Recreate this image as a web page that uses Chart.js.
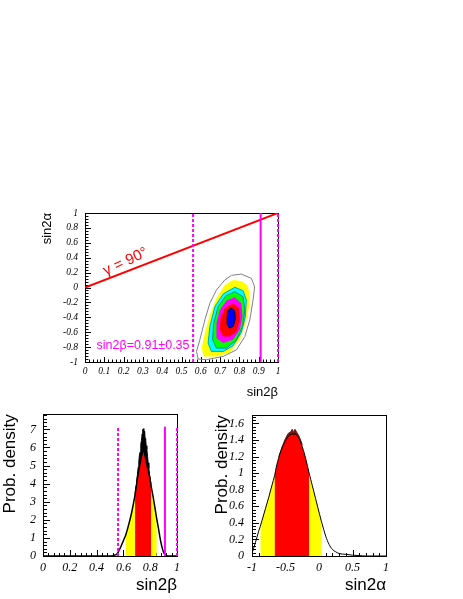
<!DOCTYPE html>
<html>
<head>
<meta charset="utf-8">
<script src="https://cdn.jsdelivr.net/npm/chart.js@4.4.1/dist/chart.umd.min.js"></script>
<style>
  body { margin: 0; background: #fff; }
  #page { position: relative; width: 463px; height: 599px; overflow: hidden; }
  canvas { position: absolute; }
</style>
</head>
<body>
<div id="page">
  <canvas id="topChart" width="300" height="400" style="left:0;top:0"></canvas>
  <canvas id="betaChart" width="205" height="199" style="left:0;top:400px"></canvas>
  <canvas id="alphaChart" width="258" height="199" style="left:205px;top:400px"></canvas>
</div>
<script>
// ---- top panel: sin2beta vs sin2alpha probability regions (outer -> inner)
var grayX = [0.810, 0.862, 0.879, 0.871, 0.854, 0.828, 0.785, 0.716, 0.629, 0.586, 0.578, 0.595, 0.621, 0.647, 0.681, 0.724, 0.759];
var grayY = [0.180, 0.123, 0.011, -0.167, -0.435, -0.658, -0.836, -0.925, -0.969, -0.960, -0.858, -0.702, -0.435, -0.211, -0.033, 0.100, 0.163];
var yellowX = [0.767, 0.810, 0.840, 0.854, 0.850, 0.833, 0.802, 0.750, 0.681, 0.616, 0.604, 0.621, 0.647, 0.681, 0.724];
var yellowY = [0.100, 0.087, 0.033, -0.077, -0.256, -0.479, -0.702, -0.872, -0.925, -0.925, -0.813, -0.612, -0.368, -0.144, 0.033];
var cyanX = [0.776, 0.819, 0.836, 0.831, 0.810, 0.767, 0.716, 0.655, 0.638, 0.647, 0.673, 0.716];
var cyanY = [0.003, -0.043, -0.167, -0.390, -0.604, -0.782, -0.858, -0.858, -0.746, -0.524, -0.256, -0.087];
var greenX = [0.776, 0.819, 0.828, 0.816, 0.785, 0.733, 0.681, 0.661, 0.667, 0.690, 0.729];
var greenY = [-0.056, -0.123, -0.301, -0.524, -0.702, -0.813, -0.813, -0.702, -0.479, -0.256, -0.114];
var magentaX = [0.776, 0.810, 0.816, 0.802, 0.767, 0.716, 0.681, 0.681, 0.698, 0.733];
var magentaY = [-0.131, -0.211, -0.390, -0.568, -0.702, -0.746, -0.679, -0.479, -0.301, -0.176];
var redX = [0.767, 0.798, 0.802, 0.785, 0.750, 0.716, 0.698, 0.702, 0.724];
var redY = [-0.211, -0.278, -0.435, -0.591, -0.658, -0.658, -0.568, -0.412, -0.278];
var blueX = [0.757, 0.775, 0.779, 0.768, 0.750, 0.737, 0.736, 0.742];
var blueY = [-0.275, -0.310, -0.420, -0.520, -0.545, -0.500, -0.400, -0.305];

var gammaLineX = [0, 1];
var gammaLineY = [0, 1];
var gammaLabel = 'γ = 90°';
var gammaLabelAt = [0.21, 0.345];
var measLabel = 'sin2β=0.91±0.35';
var measLabelAt = [0.06, -0.78];

// measured sin2beta: central value and 1 sigma band (upper edge clipped at 1)
var betaMeas = 0.91;
var betaLow = 0.56;
var betaHigh = 1.0;
var betaLineTop = 7.15;

// ---- bottom left: sin2beta probability density
var betaX = [0.00, 0.50, 0.52, 0.54, 0.55, 0.56, 0.58, 0.60, 0.618, 0.64, 0.66, 0.687, 0.70, 0.72, 0.74, 0.75, 0.76, 0.78, 0.80, 0.806, 0.82, 0.84, 0.849, 0.86, 0.88, 0.90, 0.92, 0.94, 1.00];
var betaPdf = [0, 0, 0.02, 0.06, 0.10, 0.20, 0.50, 0.85, 1.18, 1.75, 2.35, 3.40, 4.05, 4.95, 5.65, 5.85, 5.60, 4.90, 4.20, 3.90, 3.35, 2.45, 2.05, 1.60, 0.75, 0.20, 0.04, 0, 0];
var betaPeakX = [0.687, 0.695, 0.700, 0.705, 0.710, 0.715, 0.720, 0.725, 0.730, 0.735, 0.740, 0.743, 0.746, 0.749, 0.752, 0.755, 0.758, 0.762, 0.766, 0.770, 0.775, 0.780, 0.785, 0.790, 0.795, 0.800, 0.806];
var betaPeak = [3.45, 3.90, 4.25, 4.50, 4.90, 5.20, 5.60, 5.75, 6.20, 6.40, 6.75, 6.55, 7.00, 6.80, 7.05, 6.70, 6.90, 6.50, 6.45, 6.10, 5.90, 5.50, 5.15, 4.85, 4.50, 4.30, 3.95];
var beta95 = [0.618, 0.849];
var beta68 = [0.687, 0.806];
var betaTicks = { x: [0, 1, 0.2], y: [0, 7.84, 1] };

// ---- bottom right: sin2alpha probability density
var alphaX = [-1.0, -0.95, -0.90, -0.876, -0.85, -0.80, -0.75, -0.70, -0.663, -0.63, -0.58, -0.52, -0.46, -0.40, -0.36, -0.30, -0.25, -0.20, -0.147, -0.10, -0.05, 0.0, 0.032, 0.07, 0.10, 0.15, 0.20, 0.25, 0.30, 0.40, 0.50, 0.60, 0.70, 1.0];
var alphaPdf = [0.03, 0.16, 0.30, 0.36, 0.43, 0.57, 0.71, 0.86, 0.97, 1.10, 1.24, 1.36, 1.44, 1.47, 1.47, 1.42, 1.32, 1.18, 1.00, 0.85, 0.69, 0.53, 0.43, 0.32, 0.24, 0.14, 0.08, 0.05, 0.03, 0.02, 0.01, 0.005, 0, 0];
var alphaPeakX = [-0.60, -0.55, -0.50, -0.46, -0.42, -0.40, -0.38, -0.36, -0.33, -0.30, -0.27, -0.25];
var alphaPeak = [1.20, 1.32, 1.42, 1.48, 1.50, 1.53, 1.49, 1.53, 1.49, 1.45, 1.39, 1.34];
var alpha95 = [-0.876, 0.032];
var alpha68 = [-0.663, -0.147];
var alphaTicks = { x: [-1, 1, 0.5], y: [0, 1.7, 0.2] };

var topTicks = { x: [0, 1, 0.1], y: [-1, 1, 0.2] };

var serif = 'Liberation Serif';
var sans = 'Liberation Sans';

var toPoints = function(xs, ys, lo, hi) {
  var pts = [];
  for (var i = 0; i < xs.length; i++) {
    if (lo === undefined || (xs[i] >= lo - 1e-9 && xs[i] <= hi + 1e-9)) pts.push({x: xs[i], y: ys[i]});
  }
  return pts;
};

// values where the ROOT style tick marks go: [value, isMajor]
var tickValues = function(range, sub) {
  var out = [];
  var step = range[2];
  var minor = step / sub;
  var k0 = Math.ceil(range[0] / minor - 1e-6), k1 = Math.floor(range[1] / minor + 1e-6);
  for (var k = k0; k <= k1; k++) {
    var v = k * minor;
    out.push([v, Math.abs(v / step - Math.round(v / step)) < 1e-6]);
  }
  return out;
};

var rootFrame = function(ticks, sub, len) {
  var xt = tickValues(ticks.x, sub);
  var yt = tickValues(ticks.y, sub);
  return {
    id: 'rootFrame',
    beforeDatasetsDraw: function(chart) {
      var ctx = chart.ctx, a = chart.chartArea;
      var l = Math.round(a.left), b = Math.round(a.bottom);
      ctx.save();
      ctx.strokeStyle = '#000';
      ctx.lineWidth = 1;
      ctx.setLineDash([]);
      ctx.strokeRect(l + 0.5, Math.round(a.top) + 0.5, Math.round(a.right) - l, b - Math.round(a.top));
      ctx.fillStyle = '#000';
      xt.forEach(function(t) {
        var n = t[1] ? len : len / 2;
        var p = Math.round(chart.scales.x.getPixelForValue(t[0]));
        ctx.fillRect(p, b - n, 1, n);
      });
      yt.forEach(function(t) {
        var n = t[1] ? len : len / 2;
        var p = Math.round(chart.scales.y.getPixelForValue(t[0]));
        ctx.fillRect(l, p, n + 1, 1);
      });
      ctx.restore();
    }
  };
};

var levels = [
  {x: yellowX, y: yellowY, fill: '#ffff00'},
  {x: cyanX, y: cyanY, fill: '#00ffff', stroke: '#00aaaa'},
  {x: greenX, y: greenY, fill: '#00ff00', stroke: '#008b8b'},
  {x: magentaX, y: magentaY, fill: '#ff00ff'},
  {x: redX, y: redY, fill: '#ff0000'},
  {x: blueX, y: blueY, fill: '#0000ff', stroke: '#000033'},
  {x: grayX, y: grayY, stroke: '#808080'}
];

var contourPlugin = {
  id: 'contours',
  beforeDatasetsDraw: function(chart) {
    var ctx = chart.ctx, xs = chart.scales.x, ys = chart.scales.y;
    ctx.save();
    levels.forEach(function(lv) {
      ctx.beginPath();
      for (var i = 0; i < lv.x.length; i++) {
        var px = xs.getPixelForValue(lv.x[i]), py = ys.getPixelForValue(lv.y[i]);
        if (i === 0) ctx.moveTo(px, py); else ctx.lineTo(px, py);
      }
      ctx.closePath();
      if (lv.fill) { ctx.fillStyle = lv.fill; ctx.fill(); }
      if (lv.stroke) { ctx.strokeStyle = lv.stroke; ctx.lineWidth = 1; ctx.stroke(); }
    });
    ctx.restore();
  },
  afterDatasetsDraw: function(chart) {
    var ctx = chart.ctx, xs = chart.scales.x, ys = chart.scales.y;
    ctx.save();
    ctx.translate(xs.getPixelForValue(gammaLabelAt[0]), ys.getPixelForValue(gammaLabelAt[1]));
    ctx.rotate(-25 * Math.PI / 180);
    ctx.font = '15px ' + sans;
    ctx.fillStyle = '#ff0000';
    ctx.textAlign = 'center';
    ctx.textBaseline = 'middle';
    ctx.fillText(gammaLabel, 0, 0);
    ctx.restore();
    ctx.save();
    ctx.font = '12.5px ' + sans;
    ctx.fillStyle = '#ff00ff';
    ctx.textAlign = 'left';
    ctx.textBaseline = 'middle';
    ctx.fillText(measLabel, xs.getPixelForValue(measLabelAt[0]), ys.getPixelForValue(measLabelAt[1]));
    ctx.restore();
  }
};

var vline = function(x, y0, y1, dashed) {
  return {
    data: [{x: x, y: y0}, {x: x, y: y1}],
    borderColor: '#ff00ff', borderWidth: 2, borderDash: dashed ? [3, 2] : [],
    pointRadius: 0, fill: false, clip: false, order: 1
  };
};

var tickFont = function(size) { return {family: serif, style: 'italic', size: size}; };
var tickText = function(v) { return String(Math.round(v * 1000) / 1000); };

var axes = function(ticks, o) {
  return {
    x: {
      type: 'linear', min: ticks.x[0], max: ticks.x[1],
      grid: {display: false, drawTicks: false, tickLength: 0}, border: {display: false},
      ticks: {stepSize: ticks.x[2], padding: o.xPad, font: tickFont(o.tickSize), color: '#000', maxRotation: 0, autoSkip: false, includeBounds: false, callback: tickText},
      title: {display: true, text: o.xTitle, align: 'end', color: '#000', font: {family: sans, size: o.xTitleSize}, padding: {top: 0, bottom: o.xTitlePad}},
      afterFit: function(s) { s.height = o.xHeight; }
    },
    y: {
      type: 'linear', min: ticks.y[0], max: ticks.y[1],
      grid: {display: false, drawTicks: false, tickLength: 0}, border: {display: false},
      ticks: {stepSize: ticks.y[2], padding: o.yPad, font: tickFont(o.tickSize), color: '#000', autoSkip: false, includeBounds: false, callback: tickText},
      title: {display: true, text: o.yTitle, align: 'end', color: '#000', font: {family: sans, size: o.yTitleSize}, padding: {top: o.yTitlePad, bottom: 0}},
      afterFit: function(s) { s.width = o.yWidth; }
    }
  };
};

var baseOptions = function(padding, scales) {
  return {
    responsive: false, animation: false, devicePixelRatio: 1,
    layout: {padding: padding},
    plugins: {legend: {display: false}, tooltip: {enabled: false}},
    elements: {point: {radius: 0}},
    scales: scales
  };
};

new Chart(document.getElementById('topChart'), {
  type: 'line',
  data: {
    datasets: [
      {data: toPoints(gammaLineX, gammaLineY), borderColor: '#ff0000', borderWidth: 2, pointRadius: 0, fill: false, order: 2},
      vline(betaLow, -1, 1, true),
      vline(betaMeas, -1, 1, false),
      vline(betaHigh, -1, 1, true)
    ]
  },
  options: baseOptions({left: 0, right: 22, top: 213, bottom: 0},
    axes(topTicks, {
      xPad: 4, yPad: 7, tickSize: 9.5, xTitle: 'sin2β', yTitle: 'sin2α',
      xTitleSize: 13, yTitleSize: 13, xTitlePad: 0, yTitlePad: 40, xHeight: 38, yWidth: 85
    })),
  plugins: [rootFrame(topTicks, 5, 5), contourPlugin]
});

var histChart = function(id, xs, ys, peakX, peak, peakColor, band95, band68, ticks, extra, o, padding, lineWidth) {
  var datasets = [
    {data: toPoints(peakX, peak), borderColor: peakColor, borderWidth: 1, backgroundColor: peakColor, fill: 'origin', pointRadius: 0, order: 6},
    {data: toPoints(xs, ys, band95[0], band95[1]), borderWidth: 0, backgroundColor: '#ffff00', fill: 'origin', pointRadius: 0, cubicInterpolationMode: 'monotone', order: 5},
    {data: toPoints(xs, ys, band68[0], band68[1]), borderWidth: 0, backgroundColor: '#ff0000', fill: 'origin', pointRadius: 0, cubicInterpolationMode: 'monotone', order: 4},
    {data: toPoints(xs, ys), borderColor: '#000', borderWidth: lineWidth, fill: false, pointRadius: 0, cubicInterpolationMode: 'monotone', order: 3}
  ].concat(extra);
  return new Chart(document.getElementById(id), {
    type: 'line',
    data: {datasets: datasets},
    options: baseOptions(padding, axes(ticks, o)),
    plugins: [rootFrame(ticks, 5, 6)]
  });
};

histChart('betaChart', betaX, betaPdf, betaPeakX, betaPeak, '#000', beta95, beta68, betaTicks,
  [vline(betaLow, 0, betaLineTop, true), vline(betaMeas, 0, betaLineTop, false), vline(betaHigh, 0, betaLineTop, true)],
  {xPad: 5, yPad: 7, tickSize: 12, xTitle: 'sin2β', yTitle: 'Prob. density', xTitleSize: 17, yTitleSize: 17,
   xTitlePad: 3, yTitlePad: 0, xHeight: 43, yWidth: 43},
  {left: 0, right: 28, top: 6, bottom: 0}, 1.5);

histChart('alphaChart', alphaX, alphaPdf, alphaPeakX, alphaPeak, '#701515', alpha95, alpha68, alphaTicks, [],
  {xPad: 5, yPad: 8, tickSize: 12, xTitle: 'sin2α', yTitle: 'Prob. density', xTitleSize: 17, yTitleSize: 17,
   xTitlePad: 3, yTitlePad: 7, xHeight: 43, yWidth: 47},
  {left: 0, right: 77, top: 6, bottom: 0}, 1);
</script>
</body>
</html>
